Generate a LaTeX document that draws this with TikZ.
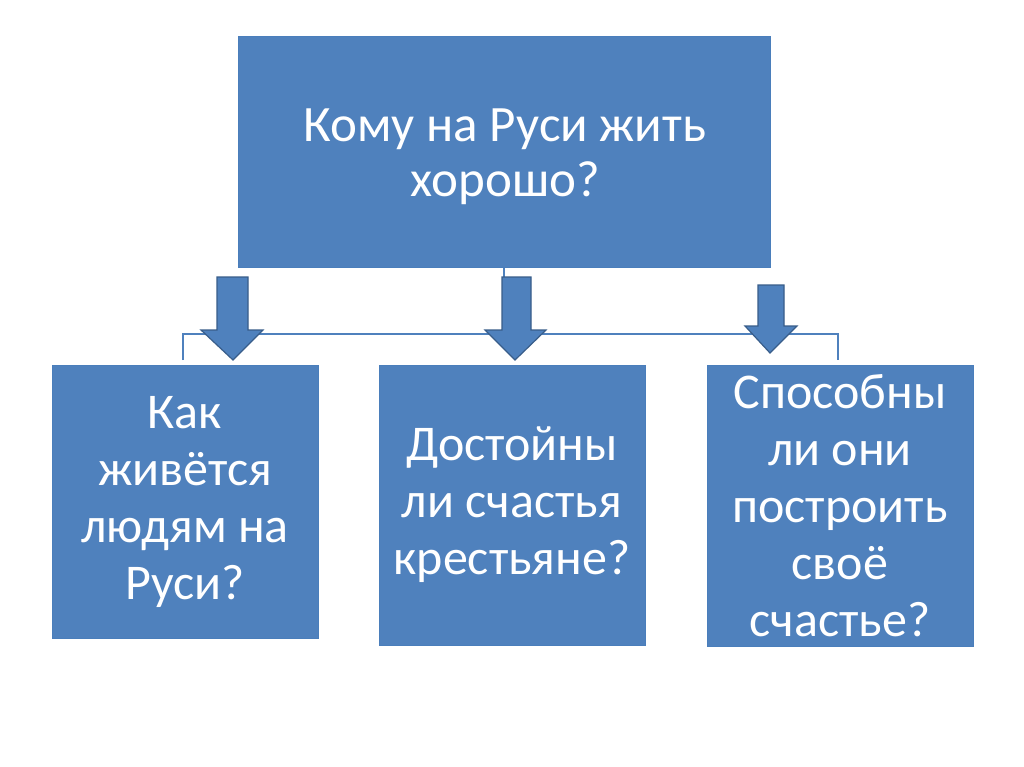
\documentclass[tikz,border=0pt]{standalone}
\usepackage{fontspec}
\setmainfont{Carlito}
\definecolor{boxfill}{HTML}{4F81BD}
\definecolor{boxline}{HTML}{4A7EBB}
\definecolor{arrline}{HTML}{385D8A}
\tikzset{
  qbox/.style={draw=boxline, line width=1pt, fill=boxfill, text=white, align=center, inner sep=0pt, font=\fontsize{50}{57}\selectfont},
  qtext/.style={text=white, align=center, inner sep=0pt, font=\fontsize{51}{55}\selectfont},
  bigarrow/.style={draw=arrline, line width=1.2pt, fill=boxfill, line join=miter},
  bracket/.style={draw=boxfill, line width=2pt}
}
\begin{document}
\begin{tikzpicture}[x=1pt,y=-1pt]
\useasboundingbox[fill=white] (0,0) rectangle (1024,767);
\node[qbox, minimum width=532pt, minimum height=230pt] (top) at (504,152) {};
\node[qtext] (toptext) at (505,157) {Кому на Руси жить\\хорошо?};
\node[qbox, minimum width=266pt, minimum height=273pt] (left) at (185,501.5) {Как\\живётся\\людям на\\Руси?};
\node[qbox, minimum width=266pt, minimum height=280pt] (mid) at (512,505) {Достойны\\ли счастья\\крестьяне?};
\node[qbox, minimum width=266pt, minimum height=281pt] (right) at (840,505.5) {Способны\\ли они\\построить\\своё\\счастье?};
% bracket connector
\coordinate (bl) at (183,360);
\coordinate (br) at (838,360);
\coordinate (tick) at (504,283);
\draw[bracket] (bl) -- ++(0,-26) -| (br);
\draw[bracket] (top.south -| tick) -- (tick);
% block arrows
\draw[bigarrow] (217,277) -- (248,277) -- (248,330) -- (263,330) -- (233,360) -- (201,330) -- (217,330) -- cycle;
\draw[bigarrow] (502,277) -- (531,277) -- (531,330) -- (546,330) -- (515,360) -- (485,330) -- (502,330) -- cycle;
\draw[bigarrow] (758,285) -- (784,285) -- (784,326) -- (797,326) -- (770,353) -- (745,326) -- (758,326) -- cycle;
\end{tikzpicture}
\end{document}
